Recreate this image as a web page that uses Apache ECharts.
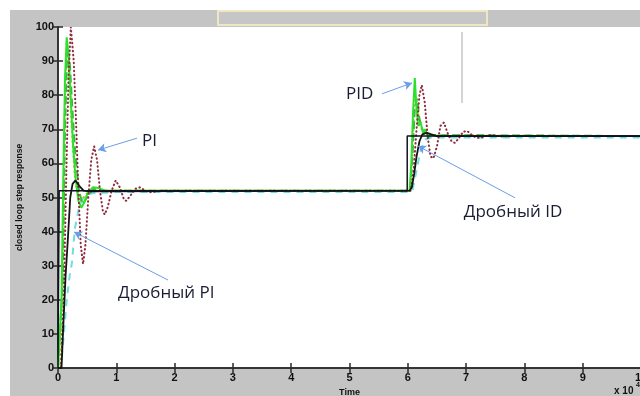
<!DOCTYPE html>
<html>
<head>
<meta charset="utf-8">
<script src="https://cdn.jsdelivr.net/npm/echarts@6/dist/echarts.min.js"></script>
<style>
  html, body { margin: 0; padding: 0; background: #ffffff; }
  #chart { width: 640px; height: 396px; }
</style>
</head>
<body>
<div id="chart"></div>
<script>
// Time axis (x 10^4) and response values
const xTicks = [0, 1, 2, 3, 4, 5, 6, 7, 8, 9, 10];
const yTicks = [0, 10, 20, 30, 40, 50, 60, 70, 80, 90, 100];

// Set-point (reference step)
const refT = [0, 0.02, 0.02, 5.99, 5.99, 10.2];
const refY = [0, 0, 52, 52, 68, 68];

// Дробный ID response (black)
const fidT = [0, 0.06, 0.09, 0.13, 0.17, 0.21, 0.25, 0.3, 0.36, 0.44, 0.55, 6.03, 6.07, 6.11, 6.15, 6.2, 6.25, 6.32, 6.4, 6.5, 10.2];
const fidY = [0, 0, 12, 27, 38, 50, 54, 55, 53.5, 52, 51.8, 52, 53, 57, 62, 66.5, 68.5, 69, 68.5, 68, 68];

// PI response (dotted maroon)
const piT = [0, 0.05, 0.1, 0.14, 0.18, 0.22, 0.27, 0.31, 0.35, 0.39, 0.43, 0.47, 0.52, 0.57, 0.62, 0.67, 0.72, 0.77, 0.8, 0.85, 0.92, 0.99, 1.06, 1.13, 1.17, 1.24, 1.32, 1.4, 1.5, 1.6, 1.75, 2.0,
             6.05, 6.1, 6.15, 6.2, 6.24, 6.29, 6.34, 6.39, 6.44, 6.5, 6.56, 6.62, 6.68, 6.75, 6.81, 6.88, 6.95, 7.02, 7.1, 7.18, 7.27, 7.36, 7.45, 7.6, 7.8, 10.2];
const piY = [0, 0, 20, 55, 85, 100, 90, 72, 52, 36, 30.5, 36, 50, 61, 65, 61, 52, 46, 45, 47, 52, 55, 53, 49.5, 49, 50.5, 52.5, 53, 52, 51.5, 52, 52,
             52, 58, 70, 80, 83, 78, 68, 62, 61.5, 65, 71, 72, 69, 66.5, 66, 67.5, 69.3, 69.5, 68.3, 67.5, 67.6, 68.2, 68.3, 67.9, 68, 68];

// PID response (green)
const pidT = [0, 0.03, 0.06, 0.09, 0.12, 0.15, 0.18, 0.22, 0.26, 0.3, 0.35, 0.4, 0.45, 0.5, 0.6, 0.7, 0.8, 1.0, 6.03, 6.06, 6.09, 6.12, 6.15, 6.18, 6.22, 6.26, 6.3, 6.35, 6.4, 6.5, 10.2];
const pidY = [0, 0, 20, 55, 85, 97, 92, 78, 65, 56, 49, 47, 48.5, 51, 53, 52.8, 52, 52, 52, 60, 75, 85, 76, 71, 72, 69, 70, 67.5, 68.5, 68, 68];

// Second green response (dashed)
const gdT = [0, 0.03, 0.08, 0.12, 0.16, 0.2, 0.25, 0.3, 0.36, 0.42, 0.5, 0.6, 0.75, 1.0, 6.04, 6.08, 6.12, 6.16, 6.2, 6.25, 6.32, 6.4, 10.2];
const gdY = [0, 0, 25, 70, 94, 90, 75, 62, 52, 48, 50, 52.5, 52, 52, 52, 62, 76, 79, 73, 70, 68, 68.3, 68];

// Yellow-green response (dash-dot)
const ygT = [0, 0.04, 0.08, 0.12, 0.15, 0.19, 0.23, 0.28, 0.33, 0.4, 0.48, 0.6, 0.8, 6.04, 6.08, 6.12, 6.16, 6.21, 6.27, 6.35, 6.45, 10.2];
const ygY = [0, 0, 30, 78, 96, 88, 72, 58, 51, 49, 51, 52.5, 52, 52, 64, 80, 77, 71, 69, 68, 68.2, 68];

// Дробный PI response (cyan dashed)
const fpiT = [0, 0.05, 0.1, 0.15, 0.2, 0.24, 0.29, 0.36, 0.45, 0.6, 1.0, 6.0, 6.08, 6.15, 6.22, 6.3, 6.4, 10.2];
const fpiY = [0, 0, 10, 20, 27, 31, 41, 47, 50.5, 51.3, 51.6, 51.6, 52, 58, 64, 67, 67.6, 67.6];

const zip = (t, y) => t.map((v, i) => [v, y[i]]);

const arrowColor = '#6a9ee6';
const textStyle = { color: '#1a1c34', fontFamily: 'Open Sans', fontSize: 17 };

function note(coord, text) {
  return {
    coord: coord, symbol: 'circle', symbolSize: 0,
    label: Object.assign({ show: true, formatter: text, position: 'right', distance: 0 }, textStyle)
  };
}

const chart = echarts.init(document.getElementById('chart'), null, { renderer: 'canvas' });

const axisLine = { show: true, lineStyle: { color: '#2a2a2a', width: 1.5 } };
const axisTick = { show: true, inside: true, length: 5, lineStyle: { color: '#2a2a2a', width: 1.5 } };
const tickLabel = { color: '#111', fontFamily: 'Liberation Sans', fontWeight: 'bold', fontSize: 11 };

chart.setOption({
  animation: false,
  backgroundColor: '#ffffff',
  graphic: [
    { type: 'rect', shape: { x: 10, y: 10, width: 640, height: 400 }, style: { fill: '#c4c4c4' }, z: -10 },
    { type: 'rect', shape: { x: 58, y: 27, width: 600, height: 341 }, style: { fill: '#ffffff' }, z: -9 },
    { type: 'rect', shape: { x: 218, y: 11, width: 269, height: 14 }, style: { fill: '#c6c6c6', stroke: '#efe7c2', lineWidth: 2 }, z: 5 },
    { type: 'text', style: { text: 'x 10', x: 614, y: 386, fill: '#111', font: 'bold 10px "Liberation Sans"' } },
    { type: 'text', style: { text: '4', x: 636, y: 382, fill: '#111', font: 'bold 7px "Liberation Sans"' } }
  ],
  grid: { left: 58, top: 27, width: 583, height: 341, show: false, outerBoundsMode: 'none', containLabel: false },
  xAxis: [
    {
      type: 'value', min: 0, max: 10, interval: 1, position: 'bottom',
      name: 'Time', nameLocation: 'middle', nameGap: 16,
      nameTextStyle: { color: '#111', fontFamily: 'Liberation Sans', fontWeight: 'bold', fontSize: 9 },
      axisLine: axisLine, axisTick: axisTick, splitLine: { show: false },
      axisLabel: Object.assign({ margin: 4 }, tickLabel)
    },
    {
      type: 'value', min: 0, max: 10, interval: 1, position: 'top',
      axisLine: axisLine, axisTick: axisTick, splitLine: { show: false }, axisLabel: { show: false }
    }
  ],
  yAxis: [
    {
      type: 'value', min: 0, max: 100, interval: 10, position: 'left',
      name: 'closed loop step response', nameLocation: 'middle', nameGap: 34,
      nameTextStyle: { color: '#111', fontFamily: 'Liberation Sans', fontWeight: 'bold', fontSize: 8.5 },
      axisLine: axisLine, axisTick: axisTick, splitLine: { show: false },
      axisLabel: Object.assign({ margin: 4 }, tickLabel)
    },
    {
      type: 'value', min: 0, max: 100, interval: 10, position: 'right',
      axisLine: axisLine, axisTick: axisTick, splitLine: { show: false }, axisLabel: { show: false }
    }
  ],
  series: [
    {
      name: 'Дробный PI', type: 'line', data: zip(fpiT, fpiY), symbol: 'none', clip: true,
      lineStyle: { color: '#6fdede', width: 2, type: [7, 6] }
    },
    {
      name: 'yg', type: 'line', data: zip(ygT, ygY), symbol: 'none', clip: true,
      lineStyle: { color: '#bcbc10', width: 2, type: [2, 3] }
    },
    {
      name: 'gd', type: 'line', data: zip(gdT, gdY), symbol: 'none', clip: true,
      lineStyle: { color: '#35b835', width: 2, type: [8, 4] }
    },
    {
      name: 'PID', type: 'line', data: zip(pidT, pidY), symbol: 'none', clip: true,
      lineStyle: { color: '#2ee02e', width: 2 }
    },
    {
      name: 'PI', type: 'line', data: zip(piT, piY), symbol: 'none', clip: true,
      lineStyle: { color: '#8e2b3d', width: 2, type: [0.5, 3.5], cap: 'round' }
    },
    {
      name: 'Дробный ID', type: 'line', data: zip(fidT, fidY), symbol: 'none', clip: true,
      lineStyle: { color: '#151515', width: 1.8 }
    },
    {
      name: 'ref', type: 'line', data: zip(refT, refY), symbol: 'none', clip: true,
      lineStyle: { color: '#111122', width: 1.5 },
      markLine: {
        silent: true, symbol: ['none', 'arrow'], symbolSize: [7, 8],
        lineStyle: { color: arrowColor, width: 1, type: 'solid' },
        label: { show: false },
        data: [
          [{ coord: [1.355, 67.4] }, { coord: [0.686, 63.9] }],
          [{ coord: [1.887, 25.8] }, { coord: [0.274, 39.9] }],
          [{ coord: [5.557, 80.4] }, { coord: [6.072, 83.6] }],
          [{ coord: [7.84, 49.9] }, { coord: [6.175, 65.1] }],
          [{ coord: [6.93, 98.5], symbol: 'none', lineStyle: { color: '#d4d4d4', width: 2 } },
           { coord: [6.93, 77.7], symbol: 'none' }]
        ]
      },
      markPoint: {
        silent: true,
        data: [
          note([1.44, 66.6], 'PI'),
          note([1.03, 22], 'Дробный PI'),
          note([4.94, 80.4], 'PID'),
          note([6.96, 45.7], 'Дробный ID')
        ]
      }
    }
  ]
});
</script>
</body>
</html>
